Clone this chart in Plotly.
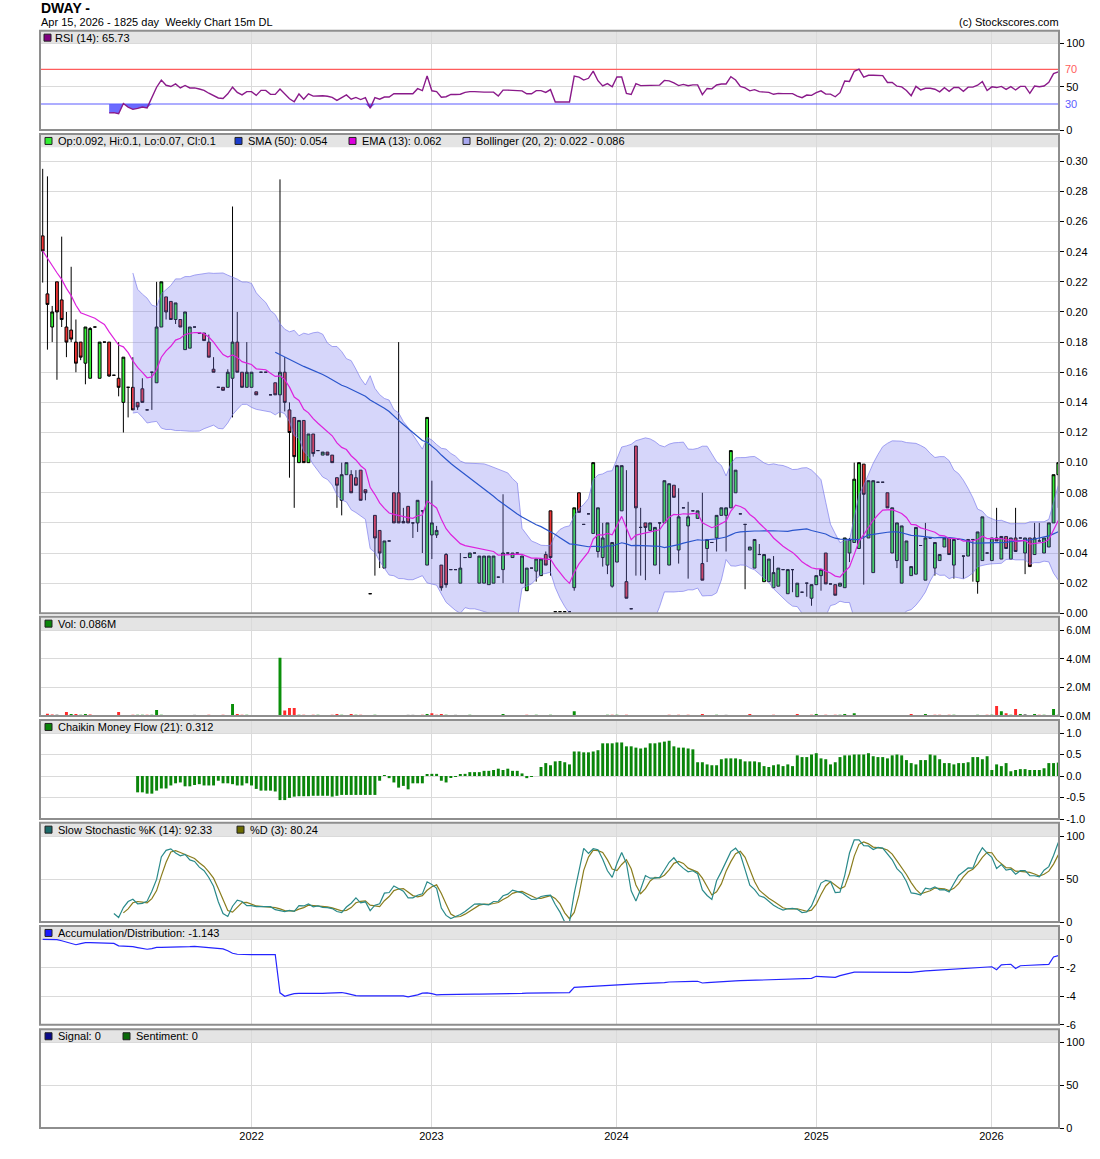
import numpy as np
import plotly.graph_objects as go

# ---------------- data (weekly bars, oldest first) ----------------
opens = [
    .2505, .212, .190, .220, .208, .190, .188, .180, .180, .166,
    .156, .190, .156, .180, .180, .158, .156, .140, .150, .150,
    .140, .149, .135, .160, .153, .190, .210, .207, .195, .195,
    .175, .176, .190, .186, .186, .180, .162, .150, .150, .150,
    .156, .180, .160, .150, .150, .147, .160, .160, .145, .153,
    .145, .160, .135, .130, .100, .128, .100, .119, .108, .105,
    .107, .105, .090, .075, .092, .092, .090, .095, .082, .013,
    .065, .055, .030, .048, .080, .080, .061, .071, .060, .060,
    .068, .032, .052, .052, .032, .039, .029, .029, .020, .037,
    .037, .040, .020, .020, .019, .020, .024, .029, .040, .037,
    .040, .020, .015, .030, .028, .025, .039, .068, .001, .001,
    .001, .001, .017, .080, .059, .066, .053, .041, .037, .032,
    .018, .034, .068, .021, .003, .111, .057, .060, .055, .032,
    .060, .060, .032, .085, .042, .070, .058, .068, .063, .033,
    .043, .047, .050, .065, .065, .070, .080, .066, .059, .042,
    .030, .039, .021, .021, .017, .018, .029, .013, .029, .011,
    .014, .020, .010, .019, .025, .040, .0195, .019, .018, .017,
    .040, .047, .043, .099, .050, .027, .087, .087, .080, .040,
    .035, .020, .035, .025, .026, .045, .022, .050, .030, .035,
    .044, .050, .032, .049, .038, .038, .049, .021, .035, .040,
    .035, .050, .036, .051, .036, .050, .050, .040, .050, .039,
    .048, .040, .044, .060, .092,
]
highs = [
    .295, .290, .204, .220, .250, .200, .230, .195, .180, .190,
    .190, .190, .180, .180, .180, .158, .180, .170, .150, .170,
    .140, .156, .135, .160, .220, .220, .210, .207, .206, .195,
    .200, .190, .190, .186, .186, .185, .170, .150, .150, .162,
    .270, .200, .160, .180, .160, .147, .160, .160, .145, .153,
    .288, .170, .140, .130, .128, .128, .119, .119, .108, .107,
    .107, .105, .090, .100, .100, .095, .095, .095, .082, .013,
    .065, .055, .048, .048, .080, .180, .070, .071, .060, .075,
    .068, .130, .088, .058, .032, .040, .029, .029, .040, .037,
    .040, .040, .038, .038, .038, .038, .024, .079, .040, .040,
    .040, .038, .030, .030, .036, .036, .041, .068, .001, .001,
    .001, .001, .070, .080, .059, .066, .100, .070, .060, .060,
    .047, .098, .098, .095, .003, .111, .070, .060, .060, .057,
    .060, .088, .086, .085, .083, .070, .074, .068, .068, .080,
    .049, .047, .065, .070, .070, .108, .095, .066, .059, .044,
    .049, .046, .039, .036, .038, .030, .029, .029, .029, .020,
    .014, .020, .019, .025, .029, .040, .0195, .019, .020, .050,
    .050, .100, .100, .099, .088, .088, .087, .087, .080, .070,
    .060, .058, .048, .031, .057, .045, .060, .050, .047, .039,
    .050, .050, .049, .049, .038, .049, .049, .054, .064, .040,
    .050, .070, .051, .051, .050, .070, .050, .050, .050, .060,
    .060, .050, .060, .092, .100,
]
lows = [
    .2195, .175, .180, .155, .190, .170, .180, .160, .168, .152,
    .156, .190, .156, .180, .157, .158, .144, .120, .130, .135,
    .135, .140, .135, .135, .153, .190, .195, .195, .192, .190,
    .175, .176, .190, .186, .181, .170, .160, .150, .148, .150,
    .130, .160, .150, .150, .150, .145, .160, .160, .145, .145,
    .130, .134, .090, .070, .100, .100, .100, .104, .108, .105,
    .105, .100, .070, .065, .092, .080, .085, .075, .075, .013,
    .025, .030, .030, .048, .060, .060, .060, .060, .050, .054,
    .040, .032, .036, .050, .015, .017, .029, .029, .020, .037,
    .037, .040, .020, .020, .019, .020, .024, .020, .040, .037,
    .040, .020, .015, .030, .021, .025, .032, .025, .001, .001,
    .001, .001, .015, .067, .059, .066, .053, .037, .031, .026,
    .017, .034, .068, .010, .003, .025, .025, .022, .055, .032,
    .026, .060, .032, .077, .033, .070, .023, .068, .063, .022,
    .034, .047, .041, .065, .041, .070, .080, .066, .016, .042,
    .030, .039, .021, .021, .017, .018, .029, .013, .014, .011,
    .014, .011, .005, .019, .015, .0195, .0195, .012, .018, .017,
    .034, .047, .043, .019, .050, .027, .087, .087, .070, .040,
    .030, .020, .035, .025, .026, .045, .022, .050, .025, .035,
    .044, .039, .023, .049, .023, .038, .021, .013, .035, .040,
    .035, .048, .036, .043, .036, .041, .050, .026, .031, .039,
    .048, .040, .044, .060, .070,
]
closes = [
    .2405, .205, .200, .200, .195, .180, .182, .166, .170, .190,
    .189, .190, .180, .180, .1575, .158, .150, .170, .150, .135,
    .137, .140, .135, .160, .190, .220, .200, .195, .206, .190,
    .200, .190, .190, .186, .181, .170, .160, .150, .148, .160,
    .180, .160, .150, .160, .160, .145, .160, .160, .145, .145,
    .160, .140, .120, .104, .128, .100, .119, .106, .108, .107,
    .105, .100, .085, .092, .100, .080, .085, .075, .080, .013,
    .050, .040, .048, .048, .060, .060, .060, .060, .060, .075,
    .068, .130, .060, .055, .017, .019, .029, .029, .030, .037,
    .040, .040, .038, .038, .038, .038, .024, .040, .040, .040,
    .040, .038, .030, .030, .036, .036, .032, .037, .001, .001,
    .001, .001, .070, .067, .059, .066, .100, .070, .050, .060,
    .047, .098, .098, .010, .003, .070, .057, .057, .060, .057,
    .060, .088, .086, .077, .064, .070, .064, .068, .068, .022,
    .049, .047, .065, .070, .070, .108, .095, .066, .059, .044,
    .049, .039, .039, .036, .027, .030, .029, .029, .029, .020,
    .014, .020, .019, .025, .029, .0195, .0195, .012, .020, .050,
    .049, .089, .100, .079, .088, .088, .087, .087, .070, .070,
    .060, .058, .048, .031, .057, .045, .050, .050, .047, .039,
    .050, .039, .049, .049, .038, .049, .049, .054, .064, .040,
    .050, .048, .051, .043, .050, .041, .050, .050, .031, .050,
    .048, .050, .060, .092, .100,
]
volumes_m = [
    .01, .16, .10, .10, .01, .28, .14, .14, .07, .14,
    .10, .01, .01, .01, .01, .01, .28, .01, .01, .07,
    .07, .07, .07, .07, .41, .07, .01, .01, .01, .01,
    .01, .01, .07, .01, .01, .07, .01, .01, .07, .01,
    .83, .14, .07, .07, .01, .01, .01, .01, .01, .01,
    4.07, .39, .55, .55, .07, .07, .01, .07, .07, .01,
    .01, .07, .14, .07, .01, .14, .07, .07, .01, .01,
    .07, .01, .01, .01, .01, .01, .01, .07, .07, .01,
    .07, .14, .20, .07, .14, .07, .01, .07, .01, .01,
    .07, .01, .01, .01, .01, .01, .01, .14, .01, .01,
    .01, .01, .07, .01, .07, .01, .01, .07, .01, .01,
    .01, .01, .34, .01, .01, .01, .01, .01, .01, .07,
    .07, .07, .01, .07, .01, .01, .01, .01, .01, .01,
    .01, .01, .07, .01, .07, .01, .07, .01, .01, .14,
    .01, .01, .07, .01, .07, .01, .01, .01, .01, .14,
    .01, .01, .01, .01, .07, .01, .01, .01, .01, .14,
    .01, .01, .07, .14, .01, .07, .01, .07, .07, .14,
    .01, .20, .01, .01, .01, .01, .01, .01, .01, .01,
    .01, .01, .01, .14, .01, .01, .14, .01, .07, .07,
    .01, .07, .07, .01, .01, .01, .01, .07, .01, .07,
    .07, .69, .34, .20, .07, .48, .14, .14, .01, .14,
    .07, .07, .01, .48, .086,
]
# Chaikin Money Flow (21) values, last bars
cmf_values = [
    -.38, -.38, -.41, -.41, -.34, -.29, -.29, -.22, -.17, -.15,
    -.24, -.24, -.21, -.19, -.22, -.22, -.22, -.11, -.17, -.17,
    -.19, -.22, -.22, -.17, -.22, -.30, -.34, -.34, -.34, -.36,
    -.56, -.56, -.51, -.48, -.47, -.47, -.47, -.46, -.46, -.46,
    -.46, -.48, -.46, -.44, -.44, -.44, -.44, -.44, -.44, -.44,
    -.44, -.11, .02, -.05, -.15, -.27, -.23, -.31, -.17, -.17,
    -.17, .04, .05, .05, -.11, -.15, -.03, -.02, .04, .05,
    .09, .09, .09, .12, .12, .14, .17, .14, .17, .12,
    .12, .06, -.05, -.02, 0.0, .21, .30, .25, .34,
    .35, .32, .27, .57, .57, .55, .55, .57, .60, .76,
    .76, .76, .78, .78, .69, .69, .66, .64, .66, .76,
    .76, .78, .80, .82, .69, .66, .66, .64, .62, .32,
    .32, .27, .25, .25, .39, .41, .41, .41, .39, .34,
    .34, .34, .32, .23, .21, .25, .27, .23, .27, .23,
    .48, .44, .44, .50, .53, .41, .39, .27, .32, .44,
    .48, .48, .50, .50, .50, .53, .46, .44, .44, .41,
    .48, .50, .48, .37, .30, .27, .37, .37, .50, .48,
    .39, .30, .30, .27, .30, .30, .32, .44, .44, .39,
    .46, .14, .27, .23, .30, .11, .14, .16, .16, .14,
    .14, .14, .18, .30, .30, .312,
]
# Accumulation / Distribution (millions)
ad_values = [
    0.00, -0.02, -0.02, -0.02, -0.10, -0.19, -0.28, -0.38, -0.30, -0.24,
    -0.24, -0.24, -0.24, -0.26, -0.27, -0.29, -0.46, -0.48, -0.48, -0.52,
    -0.58, -0.64, -0.70, -0.65, -0.57, -0.57, -0.57, -0.57, -0.57, -0.57,
    -0.55, -0.52, -0.50, -0.52, -0.55, -0.59, -0.62, -0.64, -0.67, -0.80,
    -0.98, -1.05, -1.07, -1.07, -1.07, -1.07, -1.07, -1.07, -1.07, -1.07,
    -3.76, -4.00, -3.90, -3.82, -3.80, -3.81, -3.81, -3.81, -3.81, -3.80,
    -3.78, -3.76, -3.75, -3.74, -3.80, -3.88, -3.96, -3.98, -3.98, -3.98,
    -3.98, -3.98, -3.98, -3.98, -3.98, -3.98, -3.98, -4.05, -4.00, -3.90,
    -3.78, -3.76, -3.82, -3.90, -3.88, -3.87, -3.86, -3.86, -3.86, -3.86,
    -3.86, -3.85, -3.85, -3.85, -3.84, -3.84, -3.84, -3.83, -3.83, -3.82,
    -3.81, -3.80, -3.78, -3.77, -3.76, -3.75, -3.75, -3.74, -3.74, -3.74,
    -3.74, -3.74, -3.38, -3.36, -3.33, -3.30, -3.28, -3.25, -3.23, -3.20,
    -3.18, -3.17, -3.16, -3.15, -3.14, -3.13, -3.12, -3.11, -3.10, -3.10,
    -3.08, -3.05, -3.00, -2.98, -2.97, -2.96, -2.95, -2.95, -2.95, -3.07,
    -3.05, -3.02, -3.00, -2.97, -2.95, -2.93, -2.92, -2.91, -2.90, -2.89,
    -2.88, -2.87, -2.86, -2.85, -2.84, -2.83, -2.81, -2.80, -2.78, -2.77,
    -2.76, -2.74, -2.74, -2.60, -2.61, -2.65, -2.67, -2.67, -2.55, -2.48,
    -2.40, -2.31, -2.31, -2.31, -2.31, -2.32, -2.32, -2.33, -2.33, -2.34,
    -2.35, -2.36, -2.36, -2.33, -2.29, -2.28, -2.22, -2.20, -2.18, -2.17,
    -2.15, -2.13, -2.11, -2.09, -2.07, -2.05, -2.03, -2.01, -2.00, -1.98,
    -1.93, -2.14, -1.79, -1.77, -1.76, -2.05, -1.86, -1.84, -1.82, -1.80,
    -1.79, -1.77, -1.76, -1.24, -1.143,
]
year_labels = ["2022", "2023", "2024", "2025", "2026"]
year_bar_pos = [44.0, 81.9, 120.9, 163.0, 199.9]   # bar index where each year starts

# ---------------- indicators ----------------
N = len(closes)
idx = list(range(N))


def sma(vals, n):
    out = [None] * len(vals)
    for i in range(n - 1, len(vals)):
        out[i] = float(np.mean(vals[i - n + 1:i + 1]))
    return out


def ema(vals, n):
    a = 2.0 / (n + 1)
    out, e = [], vals[0]
    for v in vals:
        e = a * v + (1 - a) * e
        out.append(e)
    return out


def bollinger(vals, n=20, k=2):
    up, lo = [None] * len(vals), [None] * len(vals)
    for i in range(n - 1, len(vals)):
        w = np.array(vals[i - n + 1:i + 1])
        m, s = w.mean(), w.std()
        up[i], lo[i] = m + k * s, m - k * s
    return up, lo


def rsi(vals, n=14):
    out = [None] * len(vals)
    d = np.diff(vals)
    g = np.where(d > 0, d, 0.0)
    l = np.where(d < 0, -d, 0.0)
    ag, al = g[:n].mean(), l[:n].mean()
    out[n] = 100 - 100 / (1 + ag / al) if al > 0 else 100.0
    for i in range(n + 1, len(vals)):
        ag = (ag * (n - 1) + g[i - 1]) / n
        al = (al * (n - 1) + l[i - 1]) / n
        out[i] = 100 - 100 / (1 + ag / al) if al > 0 else 100.0
    return out


def slow_stoch(h, l, c, n=14, s=3):
    fast = [None] * len(c)
    for i in range(n - 1, len(c)):
        hh, ll = max(h[i - n + 1:i + 1]), min(l[i - n + 1:i + 1])
        fast[i] = 100 * (c[i] - ll) / (hh - ll) if hh > ll else 50.0
    k = [None] * len(c)
    for i in range(n - 1 + s - 1, len(c)):
        k[i] = sum(fast[i - s + 1:i + 1]) / s
    d = [None] * len(c)
    for i in range(n - 1 + 2 * (s - 1), len(c)):
        d[i] = sum(k[i - s + 1:i + 1]) / s
    return k, d


sma50 = sma(closes, 50)
ema13 = ema(closes, 13)
bb_up, bb_lo = bollinger(closes, 20, 2)
rsi14 = rsi(closes, 14)
stoch_k, stoch_d = slow_stoch(highs, lows, closes, 14, 3)

vol_colors = ["#8c8c8c"]
for i in range(1, N):
    if closes[i] > closes[i - 1]:
        vol_colors.append("#0a8f0a")
    elif closes[i] < closes[i - 1]:
        vol_colors.append("#ff2a2a")
    else:
        vol_colors.append("#8c8c8c")

# ---------------- layout geometry (pixels) ----------------
W, H = 1100, 1159
XL, XR = 40, 1059
BAR0_PX, BAR_LAST_PX = 42.7, 1058.3
spacing = (BAR_LAST_PX - BAR0_PX) / (N - 1)
x_range = [(XL - BAR0_PX) / spacing, (XR - BAR0_PX) / spacing]


def xp(p):
    return p / W


def yp(p):
    return 1 - p / H


# frame top, frame bottom, (value, pixel) anchor pairs
panels = [
    (30.7, 130.0, (0, 130.0), (100, 43.3)),
    (134.0, 613.3, (0, 613.3), (0.30, 161.3)),
    (616.7, 716.0, (0, 716.0), (6, 630.0)),
    (720.0, 819.0, (-1, 819.0), (1, 733.0)),
    (822.7, 922.0, (0, 922.0), (100, 836.0)),
    (926.0, 1024.7, (-6, 1024.7), (0, 939.3)),
    (1029.3, 1128.0, (0, 1128.0), (100, 1042.0)),
]
HEADER_H = 13.3

FONT = "Liberation Sans, Arial, sans-serif"
GRID = "#dadada"

fig = go.Figure()

# RSI panel: shaded area where RSI dips under 30
rsi_x = [i for i in idx if rsi14[i] is not None]
rsi_y = [rsi14[i] for i in rsi_x]
runs, cur = [], []
for j, v in enumerate(rsi_y):
    if v < 30:
        cur.append(j)
    elif cur:
        runs.append(cur)
        cur = []
if cur:
    runs.append(cur)
for run in runs:
    j0, j1 = max(run[0] - 1, 0), min(run[-1] + 1, len(rsi_y) - 1)
    xs = [rsi_x[j] for j in range(j0, j1 + 1)]
    ys = [min(rsi_y[j], 30) for j in range(j0, j1 + 1)]
    fig.add_trace(go.Scatter(x=xs + xs[::-1], y=ys + [30] * len(xs), mode="lines",
                             line=dict(width=0), fill="toself", fillcolor="#6b6bff",
                             xaxis="x", yaxis="y", hoverinfo="skip"))
for val, col in [(70, "#ff5c5c"), (30, "#5c5cff")]:
    fig.add_trace(go.Scatter(x=x_range, y=[val, val], mode="lines",
                             line=dict(width=1.2, color=col), xaxis="x", yaxis="y"))
fig.add_trace(go.Scatter(x=rsi_x, y=rsi_y, mode="lines",
                         line=dict(width=1.4, color="#8a1a8a"),
                         xaxis="x", yaxis="y"))

# Price panel: Bollinger band
bb_x = [i for i in idx if bb_up[i] is not None]
fig.add_trace(go.Scatter(x=bb_x, y=[bb_up[i] for i in bb_x], mode="lines",
                         line=dict(width=1, color="rgba(120,120,235,0.65)"),
                         xaxis="x2", yaxis="y2"))
fig.add_trace(go.Scatter(x=bb_x, y=[bb_lo[i] for i in bb_x], mode="lines",
                         line=dict(width=1, color="rgba(120,120,235,0.65)"),
                         fill="tonexty", fillcolor="rgba(120,120,240,0.30)",
                         xaxis="x2", yaxis="y2"))
fig.add_trace(go.Candlestick(
    x=idx, open=opens, high=highs, low=lows, close=closes,
    increasing=dict(fillcolor="#33ee33", line=dict(color="#000000", width=1)),
    decreasing=dict(fillcolor="#ee3333", line=dict(color="#000000", width=1)),
    whiskerwidth=0, xaxis="x2", yaxis="y2"))
sma_x = [i for i in idx if sma50[i] is not None]
fig.add_trace(go.Scatter(x=sma_x, y=[sma50[i] for i in sma_x], mode="lines",
                         line=dict(width=1.2, color="#2a55cc"),
                         xaxis="x2", yaxis="y2"))
fig.add_trace(go.Scatter(x=idx, y=ema13, mode="lines",
                         line=dict(width=1.2, color="#dd22dd"),
                         xaxis="x2", yaxis="y2"))

# Volume
fig.add_trace(go.Bar(x=idx, y=volumes_m, marker=dict(color=vol_colors, line=dict(width=0)),
                     width=0.62, xaxis="x3", yaxis="y3"))

# CMF
cmf_x = idx[N - len(cmf_values):]
fig.add_trace(go.Bar(x=cmf_x, y=cmf_values, marker=dict(color="#0a850a", line=dict(width=0)),
                     width=0.62, xaxis="x4", yaxis="y4"))

# Stochastic
k_x = [i for i in idx if stoch_k[i] is not None]
d_x = [i for i in idx if stoch_d[i] is not None]
fig.add_trace(go.Scatter(x=d_x, y=[stoch_d[i] for i in d_x], mode="lines",
                         line=dict(width=1.2, color="#8a7d1e"), xaxis="x5", yaxis="y5"))
fig.add_trace(go.Scatter(x=k_x, y=[stoch_k[i] for i in k_x], mode="lines",
                         line=dict(width=1.2, color="#2a8a8a"), xaxis="x5", yaxis="y5"))

# A/D
fig.add_trace(go.Scatter(x=idx, y=ad_values, mode="lines",
                         line=dict(width=1.2, color="#2424ff"), xaxis="x6", yaxis="y6"))

# Signal (empty)
fig.add_trace(go.Scatter(x=[None], y=[None], mode="lines", xaxis="x7", yaxis="y7"))

# ---------------- axes ----------------
tick_specs = [
    ([0, 50, 100], ["0", "50", "100"]),
    ([round(0.02 * k, 2) for k in range(16)], ["%.2f" % (0.02 * k) for k in range(16)]),
    ([0, 2, 4, 6], ["0.0M", "2.0M", "4.0M", "6.0M"]),
    ([-1, -0.5, 0, 0.5, 1], ["-1.0", "-0.5", "0.0", "0.5", "1.0"]),
    ([0, 50, 100], ["0", "50", "100"]),
    ([-6, -4, -2, 0], ["-6", "-4", "-2", "0"]),
    ([0, 50, 100], ["0", "50", "100"]),
]

layout_axes = {}
for k, (top, bot, (v0, p0), (v1, p1)) in enumerate(panels):
    n = "" if k == 0 else str(k + 1)
    scale = (v1 - v0) / (p0 - p1)
    lo = v0 - (bot - p0) * scale
    hi = v0 + (p0 - top) * scale
    tv, tt = tick_specs[k]
    layout_axes["yaxis" + n] = dict(
        domain=[yp(bot), yp(top)], range=[lo, hi], side="right",
        anchor="x" + n, tickvals=tv, ticktext=tt, ticks="outside", ticklen=4,
        tickcolor="#000000", tickwidth=1, showgrid=True, gridcolor=GRID, gridwidth=1,
        zeroline=False, showline=False, fixedrange=True, automargin=False,
        tickfont=dict(family=FONT, size=11, color="#000000"))
    layout_axes["xaxis" + n] = dict(
        domain=[xp(XL), xp(XR)], range=x_range, anchor="y" + n,
        tickvals=year_bar_pos, ticktext=year_labels, showgrid=True, gridcolor=GRID,
        gridwidth=1, zeroline=False, showline=False, ticks="", automargin=False,
        showticklabels=(k == len(panels) - 1),
        tickfont=dict(family=FONT, size=11, color="#000000"),
        rangeslider=dict(visible=False), fixedrange=True)

# ---------------- shapes ----------------
shapes = []
for top, bot, _, _ in panels:
    shapes.append(dict(type="rect", xref="paper", yref="paper",
                       x0=xp(XL), x1=xp(XR), y0=yp(top + HEADER_H), y1=yp(top),
                       fillcolor="#e4e4e4", line=dict(width=0), layer="below"))
    shapes.append(dict(type="rect", xref="paper", yref="paper",
                       x0=xp(XL), x1=xp(XR), y0=yp(bot), y1=yp(top),
                       line=dict(color="#8e8e8e", width=2), layer="above"))

annotations = []


def header_item(panel_k, sw_x, text_x, color, text):
    top = panels[panel_k][0]
    cy = top + HEADER_H / 2 + 0.3
    shapes.append(dict(type="rect", xref="paper", yref="paper",
                       x0=xp(sw_x), x1=xp(sw_x + 7), y0=yp(cy + 3.5), y1=yp(cy - 3.5),
                       fillcolor=color, line=dict(color="#222222", width=1), layer="above"))
    annotations.append(dict(xref="paper", yref="paper", x=xp(text_x), y=yp(cy),
                            xanchor="left", yanchor="middle", showarrow=False, text=text,
                            font=dict(family=FONT, size=11, color="#000000")))


header_item(0, 44, 53, "#800080", "RSI (14): 65.73")
header_item(1, 45, 56, "#33ee33", "Op:0.092, Hi:0.1, Lo:0.07, Cl:0.1")
header_item(1, 235, 246, "#1a3ccc", "SMA (50): 0.054")
header_item(1, 349, 360, "#dd00dd", "EMA (13): 0.062")
header_item(1, 463, 474, "#a8a8f0", "Bollinger (20, 2): 0.022 - 0.086")
header_item(2, 45, 56, "#0a850a", "Vol: 0.086M")
header_item(3, 45, 56, "#0a850a", "Chaikin Money Flow (21): 0.312")
header_item(4, 45, 56, "#1a6a6a", "Slow Stochastic %K (14): 92.33")
header_item(4, 237, 248, "#6b6b00", "%D (3): 80.24")
header_item(5, 45, 56, "#1a1aff", "Accumulation/Distribution: -1.143")
header_item(6, 45, 56, "#0a0a8a", "Signal: 0")
header_item(6, 123, 134, "#0a6a0a", "Sentiment: 0")

# RSI coloured level labels
annotations.append(dict(xref="paper", yref="y", x=xp(1063), y=70, xanchor="left",
                        yanchor="middle", showarrow=False, text="70",
                        font=dict(family=FONT, size=11, color="#ff5c5c")))
annotations.append(dict(xref="paper", yref="y", x=xp(1063), y=30, xanchor="left",
                        yanchor="middle", showarrow=False, text="30",
                        font=dict(family=FONT, size=11, color="#5c5cff")))

# titles
annotations.append(dict(xref="paper", yref="paper", x=xp(39), y=yp(8), xanchor="left",
                        yanchor="middle", showarrow=False, text="<b>DWAY -</b>",
                        font=dict(family=FONT, size=14, color="#000000")))
annotations.append(dict(xref="paper", yref="paper", x=xp(39), y=yp(22), xanchor="left",
                        yanchor="middle", showarrow=False,
                        text="Apr 15, 2026 - 1825 day\u00a0\u00a0Weekly Chart 15m DL",
                        font=dict(family=FONT, size=11, color="#000000")))
annotations.append(dict(xref="paper", yref="paper", x=xp(1061), y=yp(22), xanchor="right",
                        yanchor="middle", showarrow=False, text="(c) Stockscores.com",
                        font=dict(family=FONT, size=11, color="#000000")))

fig.update_layout(
    width=W, height=H, margin=dict(l=0, r=0, t=0, b=0, pad=0, autoexpand=False),
    paper_bgcolor="#ffffff", plot_bgcolor="#ffffff",
    showlegend=False, boxgap=0.15, hovermode=False,
    shapes=shapes, annotations=annotations,
    font=dict(family=FONT, size=11, color="#000000"),
    **layout_axes)

fig.write_html("out.html", config=dict(displayModeBar=False, responsive=False),
               post_script="document.body.style.margin='0';document.body.style.padding='0';"
                           "document.body.style.overflow='hidden';")
